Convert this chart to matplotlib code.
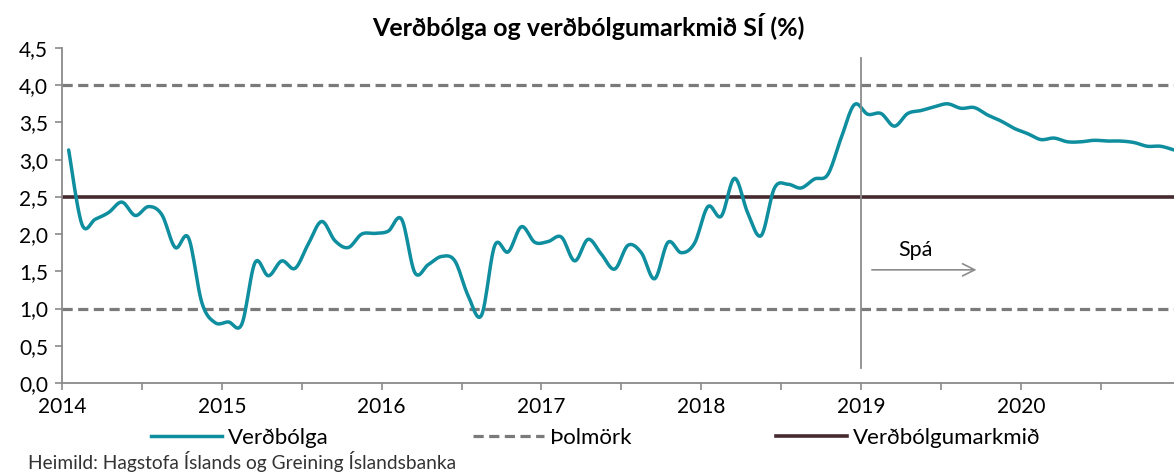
import numpy as np
from matplotlib import pyplot as plt
from matplotlib.lines import Line2D

plt.rcParams['font.family'] = ['Lato', 'DejaVu Sans']

# Verðbólga, 12 mánaða breyting (%), jan 2014 - des 2020 (spá frá 2019)
inflation = [
    3.13, 2.13, 2.20, 2.29, 2.43, 2.25, 2.37, 2.26, 1.82, 1.95, 1.08, 0.81,
    0.82, 0.79, 1.62, 1.44, 1.64, 1.54, 1.87, 2.17, 1.91, 1.82, 2.00, 2.01,
    2.04, 2.20, 1.48, 1.59, 1.70, 1.64, 1.17, 0.91, 1.85, 1.76, 2.10, 1.89,
    1.90, 1.96, 1.64, 1.93, 1.73, 1.53, 1.85, 1.75, 1.40, 1.89, 1.75, 1.88,
    2.37, 2.24, 2.75, 2.28, 1.98, 2.62, 2.67, 2.62, 2.74, 2.80, 3.29, 3.74,
    3.61, 3.62, 3.45, 3.62, 3.66, 3.71, 3.75, 3.69, 3.70, 3.60, 3.52, 3.42,
    3.35, 3.27, 3.29, 3.24, 3.24, 3.26, 3.25, 3.25, 3.23, 3.18, 3.18, 3.13,
]
start_year = 2014
years = list(range(2014, 2021))
target = 2.5
bounds = [1.0, 4.0]
forecast_start = 2019
forecast_span = [0.2, 4.37]

TEAL = '#0E8E9E'
GREY = '#7A7A7A'
BROWN = '#45292F'


def smooth(x, y, n=12):
    # excel-like smoothed line (bezier through points)
    p = np.column_stack([x, y])
    p = np.vstack([p[0], p, p[-1]])
    out = []
    t = np.linspace(0, 1, n, endpoint=False)[:, None]
    for i in range(1, len(p) - 2):
        p0, p1, p2, p3 = p[i - 1], p[i], p[i + 1], p[i + 2]
        c1 = p1 + (p2 - p0) / 6
        c2 = p2 - (p3 - p1) / 6
        seg = ((1 - t) ** 3) * p1 + 3 * ((1 - t) ** 2) * t * c1 + 3 * (1 - t) * t ** 2 * c2 + t ** 3 * p2
        out.append(seg)
    out.append(p[-2][None, :])
    out = np.vstack(out)
    return out[:, 0], out[:, 1]


x = start_year + (np.arange(len(inflation)) + 0.5) / 12

fig = plt.figure(figsize=(11.74, 4.72), dpi=100)
ax = fig.add_axes([62 / 1174, 1 - 383 / 472, (1180.7 - 62) / 1174, 335 / 472])

for b in bounds:
    ax.axhline(b, color=GREY, lw=2.3, dashes=(3.2, 1.7))
ax.axhline(target, color=BROWN, lw=2.6)
sx, sy = smooth(x, np.array(inflation))
ax.plot(sx, sy, color=TEAL, lw=2.5, solid_capstyle='round')

# forecast marker
ax.plot([forecast_start, forecast_start], forecast_span, color='#8C8C8C', lw=1.3, clip_on=False)
ax.annotate('', xy=(forecast_start + 0.74, 1.52), xytext=(forecast_start + 0.05, 1.52),
            arrowprops=dict(arrowstyle='->', color='#8C8C8C', lw=1.2, mutation_scale=22))
ax.text(forecast_start + 0.34, 1.78, 'Spá', fontsize=15.5, ha='center', va='center')

ax.set_xlim(2014, 2021)
ax.set_ylim(0, 4.5)
ax.set_yticks(np.arange(0, 4.51, 0.5))
ax.set_yticklabels([f'{v:.1f}'.replace('.', ',') for v in np.arange(0, 4.51, 0.5)])
ax.set_xticks(years)
ax.set_xticklabels([str(y) for y in years])
ax.set_xticks([y + 0.5 for y in years], minor=True)

for s in ['top', 'right']:
    ax.spines[s].set_visible(False)
for s in ['left', 'bottom']:
    ax.spines[s].set_color('#8A8A8A')
    ax.spines[s].set_linewidth(1.3)
ax.tick_params(which='both', color='#8A8A8A', length=5, width=1.2, labelsize=15, pad=5)

ax.set_title('Verðbólga og verðbólgumarkmið SÍ (%)', fontsize=18, fontweight='bold', pad=9,
             x=(588 - 62) / (1180.7 - 62))

handles = [
    Line2D([], [], color=TEAL, lw=2.5),
    Line2D([], [], color=GREY, lw=2.3, dashes=(3.2, 1.7)),
    Line2D([], [], color=BROWN, lw=2.6),
]
fig.legend(handles, ['Verðbólga', 'Þolmörk', 'Verðbólgumarkmið'], ncol=3, frameon=False,
           loc='center', bbox_to_anchor=(596 / 1174, 1 - 438 / 472), fontsize=16,
           handlelength=3.2, handletextpad=0.26, columnspacing=6.5,
           borderpad=0, borderaxespad=0)

fig.text(28 / 1174, 1 - 462 / 472, 'Heimild: Hagstofa Íslands og Greining Íslandsbanka',
         fontsize=13.8, color='#333333', va='center')

fig.savefig('out.png', dpi=100)
